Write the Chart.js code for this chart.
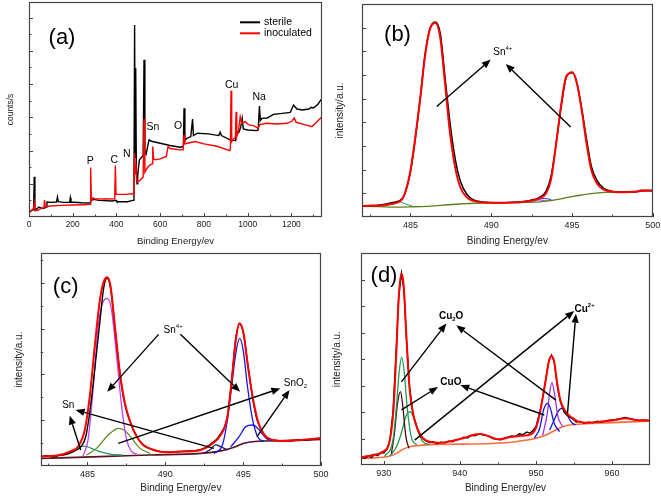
<!DOCTYPE html>
<html><head><meta charset="utf-8">
<script src="https://cdn.jsdelivr.net/npm/chart.js@4.4.0/dist/chart.umd.min.js"></script>
<style>
html,body{margin:0;padding:0;background:#fff;}
body{width:661px;height:497px;position:relative;overflow:hidden;}
canvas{position:absolute;}
</style></head><body>
<canvas id="ca" width="330" height="248" style="left:0;top:0"></canvas>
<canvas id="cb" width="331" height="248" style="left:330px;top:0"></canvas>
<canvas id="cc" width="330" height="249" style="left:0;top:248px"></canvas>
<canvas id="cd" width="331" height="249" style="left:330px;top:248px"></canvas>
<script>
const FONT = '"Liberation Sans", Arial, Helvetica, sans-serif';

// ---------------- (a) survey spectra ----------------
const aSterileE = [0,12,21,24,27,35,45,60,72,78,82,100,126,130,134,160,186,189,192,240,280,285,295,320,380,398,402,450,476,480,483,485,488,491,494,497,500,505,515,522,526,530,535,542,549,560,600,645,690,706,709,713,722,740,748,752,770,820,868,874,880,920,945,950,960,968,975,980,1000,1042,1048,1054,1058,1065,1090,1118,1160,1195,1210,1225,1250,1280,1290,1300,1320,1340];
const aSterileY = [0.15,0.2,0.22,1.21,0.22,0.24,0.3,0.26,0.27,0.3,0.45,0.44,0.45,0.6,0.46,0.44,0.44,0.58,0.45,0.43,0.42,0.5,0.53,0.5,0.48,0.5,0.46,0.46,0.5,0.9,5.78,1.8,4.48,1.4,1.0,1.21,1.45,1.72,1.8,1.85,4.73,1.9,1.88,2.1,2.32,2.28,2.22,2.15,2.1,2.12,3.27,2.3,2.37,2.42,2.95,2.45,2.52,2.5,2.45,2.55,2.45,2.32,2.3,2.5,2.55,2.7,2.97,2.65,2.62,2.6,2.62,3.34,2.9,2.97,2.98,3.09,3.12,3.15,3.37,3.25,3.22,3.25,3.3,3.28,3.38,3.57];
const aInocE = [0,12,21,24,27,40,55,68,71,74,100,150,200,250,279,282,285,293,300,350,392,395,398,440,476,480,483,486,489,492,497,508,522,526,530,538,546,555,563,566,570,577,600,628,636,645,690,705,709,713,725,760,800,860,918,921,924,927,935,944,947,950,958,966,973,989,1005,1027,1048,1055,1088,1134,1180,1202,1213,1222,1260,1294,1310,1340];
const aInocY = [0.11,0.2,0.26,0.41,0.19,0.2,0.26,0.28,0.51,0.31,0.33,0.35,0.36,0.37,0.38,1.49,0.51,0.58,0.55,0.54,0.55,1.55,0.68,0.68,0.7,1.0,1.92,1.3,1.6,1.1,1.06,1.11,1.2,2.95,1.35,1.45,1.52,1.57,1.6,2.12,1.75,1.72,1.75,1.82,2.12,2.06,2.02,2.02,2.47,2.2,2.22,2.27,2.2,2.13,2.0,2.05,3.8,2.27,2.35,2.4,3.17,2.42,2.6,3.02,2.82,2.87,2.77,2.75,2.67,2.78,2.82,2.8,2.82,2.88,2.98,2.85,2.78,2.72,2.82,3.02];
const aTicks = [0,200,400,600,800,1000,1200];
const aMinorTicks = [100,300,500,700,900,1100,1300];
const aPeakNames = ['P','C','N','Sn','O','Cu','Na'];
const aPeakE = [280,390,447,567,682,927,1053];
const aPeakY = [1.67,1.71,1.89,2.71,2.74,3.98,3.62];

// ---------------- (b) Sn 3d, sterile ----------------
const bFitE = [482.0,483.0,483.8,484.45,484.97,485.28,485.6,485.9,486.2,486.54,486.83,487.14,487.45,487.76,488.07,488.49,488.9,489.5,490.3,491.35,492.4,493.0,493.4,493.7,494.0,494.35,494.65,495.03,495.3,495.6,495.9,496.2,496.54,496.95,497.5,498.2,499.0,499.3,500.0];
const bFitY = [0.47,0.48,0.55,0.72,1.85,3.26,4.96,6.79,7.92,8.21,7.64,5.66,3.55,2.13,1.29,0.83,0.68,0.61,0.60,0.61,0.68,0.79,1.00,1.57,2.98,4.82,5.95,6.12,5.66,4.53,3.12,1.99,1.43,1.17,1.07,1.05,1.07,1.10,1.12];
const bDataE = [482.0,482.5,483.0,483.5,484.0,484.3,484.6,485.0,485.3,485.6,485.9,486.2,486.54,486.85,487.15,487.5,487.8,488.1,488.5,488.9,489.5,490.3,491.4,492.4,493.0,493.4,493.7,494.0,494.35,494.65,495.03,495.3,495.6,495.9,496.2,496.55,496.95,497.5,498.2,499.0,499.3,500.0];
const bDataY = [0.47,0.48,0.5,0.55,0.62,0.68,0.9,1.9,3.3,5.0,6.85,7.95,8.24,7.75,5.85,3.7,2.35,1.5,0.95,0.72,0.63,0.6,0.62,0.7,0.83,1.1,1.7,3.0,4.75,5.9,6.1,5.7,4.6,3.3,2.15,1.55,1.22,1.08,1.05,1.07,1.13,1.12];
const bBgE = [482,483,484,485,486,487,488,489,490,491,492,493,493.8,494.4,495,495.6,496.2,497,498.3,500];
const bBgY = [0.45,0.44,0.42,0.43,0.45,0.5,0.55,0.58,0.6,0.61,0.62,0.64,0.7,0.78,0.86,0.93,0.99,1.04,1.07,1.1];
const bTealE = [483.2,483.7,484.25,484.7,485.2];
const bTealY = [0.44,0.52,0.65,0.55,0.44];
const bPurpE = [492.0,492.6,493.0,493.4,493.8];
const bPurpY = [0.62,0.67,0.72,0.68,0.72];
const bBlueE = [492.3,492.9,493.3,493.7];
const bBlueY = [0.63,0.75,0.78,0.74];
const snTicks = [485,490,495,500];
const snMinorTicks = [482.5,487.5,492.5,497.5];

// ---------------- (c) Sn 3d, inoculated ----------------
const cFitE = [482.0,483.21,483.86,484.39,484.83,485.15,485.47,485.80,486.05,486.27,486.49,486.77,487.09,487.41,487.74,488.17,488.60,489.24,490.11,491.18,492.26,492.91,493.56,493.99,494.31,494.53,494.77,495.03,495.28,495.61,495.93,496.36,496.79,497.65,498.73,500.0];
const cFitY = [0.41,0.48,0.63,0.84,1.57,3.03,5.21,7.25,8.05,8.24,7.83,6.08,4.05,2.74,1.94,1.28,0.92,0.70,0.60,0.63,0.70,0.92,1.35,2.15,4.05,5.5,6.23,5.79,4.48,3.03,2.01,1.35,1.16,1.09,1.14,1.21];
const cDataE = [482.0,482.4,482.8,483.2,483.6,484.0,484.3,484.6,484.9,485.2,485.5,485.8,486.05,486.27,486.5,486.77,487.1,487.4,487.75,488.2,488.6,489.2,489.7,490.1,490.6,491.2,491.8,492.3,492.9,493.5,494.0,494.3,494.5,494.77,495.03,495.3,495.6,495.9,496.4,496.8,497.2,497.7,498.2,498.6,499.0,499.5,500.0];
const cDataY = [0.42,0.45,0.4,0.47,0.5,0.6,0.7,0.86,1.3,2.6,4.4,6.3,7.8,8.2,7.7,6.0,3.95,2.7,1.92,1.25,0.9,0.72,0.63,0.6,0.62,0.65,0.66,0.72,0.95,1.35,2.2,4.0,5.45,6.2,5.75,4.45,3.0,2.0,1.35,1.15,1.12,1.08,1.1,1.15,1.12,1.18,1.22];
const cPurpE = [484.72,485.04,485.36,485.69,486.01,486.27,486.55,486.88,487.20,487.52,487.85,488.17];
const cPurpY = [0.44,1.14,3.32,6.08,7.18,7.32,6.81,4.77,2.59,1.14,0.63,0.52];
const cTealE = [483.21,483.97,484.50,484.83,485.26,485.80,486.44,487.30];
const cTealY = [0.44,0.63,0.84,0.87,0.77,0.63,0.52,0.48];
const cOliveE = [484.94,485.58,486.23,486.66,486.98,487.41,487.85,488.38,489.03];
const cOliveY = [0.48,0.77,1.28,1.54,1.64,1.54,1.21,0.77,0.55];
const cBlue1E = [493.12,493.67,493.99,494.31,494.53,494.77,495.00,495.28,495.61,495.93,496.36];
const cBlue1Y = [0.55,0.92,2.01,3.76,4.92,5.57,5.07,3.46,2.01,1.28,1.06];
const cBlue2E = [494.20,494.74,495.17,495.61,496.04,496.47,496.90];
const cBlue2Y = [0.84,1.28,1.72,1.79,1.57,1.21,1.09];
const cNavyE = [492.48,492.91,493.23,493.56,493.99];
const cNavyY = [0.55,0.73,0.92,0.84,0.70];
const cBgE = [482.0,485.80,489.03,492.26,493.56,494.42,495.05,495.93,497.65,500.0];
const cBgY = [0.33,0.41,0.48,0.55,0.66,0.82,0.99,1.08,1.11,1.16];

// ---------------- (d) Cu 2p ----------------
const dFitE = [927.0,928.6,929.9,930.8,931.3,931.66,931.97,932.32,932.62,932.97,933.4,933.93,934.5,935.15,936.03,937.3,939.1,940.4,941.7,942.6,943.4,944.3,945.2,946.5,947.8,949.1,950.0,950.6,951.3,951.7,952.05,952.4,952.8,953.2,953.9,954.8,955.6,956.9,958.7,960.4,961.7,963.0,965.0];
const dFitY = [0.29,0.38,0.50,0.95,2.21,4.35,6.37,7.25,6.75,4.85,2.84,1.83,1.32,1.01,0.88,0.84,0.92,1.01,1.13,1.17,1.13,1.03,0.97,1.05,1.10,1.13,1.39,2.08,3.22,3.91,4.12,3.91,3.09,2.46,2.02,1.77,1.64,1.60,1.64,1.70,1.77,1.70,1.68];
const dDataE = [927.0,927.5,928.0,928.4,928.8,929.2,929.6,930.0,930.4,930.8,931.2,931.6,931.95,932.32,932.65,932.97,933.4,933.9,934.5,935.1,935.6,936.0,936.5,937.0,937.5,938.0,938.5,939.0,939.5,940.0,940.5,941.0,941.5,942.0,942.6,943.2,943.8,944.3,944.8,945.3,945.8,946.3,946.8,947.3,947.8,948.3,948.8,949.2,949.6,950.0,950.6,951.3,951.7,952.05,952.4,952.8,953.2,953.7,954.2,954.8,955.3,955.8,956.3,956.9,957.5,958.1,958.7,959.3,959.9,960.5,961.1,961.7,962.3,962.9,963.5,964.1,965.0];
const dDataY = [0.3,0.25,0.33,0.28,0.4,0.35,0.48,0.45,0.6,0.95,2.0,4.2,6.3,7.25,6.6,4.8,2.9,1.85,1.3,1.0,0.9,0.85,0.88,0.8,0.86,0.84,0.9,0.88,0.95,0.97,1.05,1.02,1.12,1.1,1.18,1.12,1.1,1.0,0.98,0.95,1.02,1.05,1.1,1.08,1.18,1.15,1.25,1.2,1.3,1.45,2.1,3.25,3.95,4.15,3.9,3.0,2.4,2.0,1.85,1.75,1.62,1.65,1.58,1.62,1.6,1.66,1.62,1.68,1.7,1.72,1.75,1.8,1.76,1.72,1.68,1.7,1.68];
const dBgE = [927,929.9,930.8,931.66,932.5,933.4,934.3,936.0,940.4,944.8,947.3,950.0,951.3,952.6,953.9,956.1,960.0,965.0];
const dBgY = [0.25,0.29,0.34,0.44,0.59,0.69,0.73,0.77,0.79,0.82,0.88,1.01,1.13,1.32,1.48,1.55,1.60,1.66];
const dMaroonE = [931.0,931.4,931.8,932.2,932.5,932.9,933.3];
const dMaroonY = [0.44,1.19,2.33,2.77,2.21,1.07,0.63];
const dGreen1E = [930.1,931.2,931.66,932.0,932.36,932.7,933.06,933.6,934.3];
const dGreen1Y = [0.32,0.95,2.21,3.47,4.07,3.47,2.21,1.07,0.76];
const dGreen2E = [930.8,931.66,932.3,932.9,933.4,933.9,934.5,935.15,936.0];
const dGreen2Y = [0.34,0.69,1.2,1.83,2.02,1.83,1.26,0.88,0.76];
const dBlue1E = [949.8,950.5,951.0,951.5,951.9,952.4,953.1];
const dBlue1Y = [1.01,1.39,2.08,2.33,2.14,1.58,1.26];
const dPurpE = [950.9,951.5,951.8,952.1,952.4,952.9,953.5];
const dPurpY = [1.13,1.96,2.71,3.11,2.77,1.83,1.45];
const dBlue2E = [951.8,952.4,953.1,953.5,954.0,954.6,955.2];
const dBlue2Y = [1.32,1.70,2.10,2.14,1.96,1.64,1.51];
const cuTicks = [930,940,950,960];
const cuMinorTicks = [935,945,955];

// ---------------- helpers ----------------
function pts(xs, ys) { return xs.map((v, i) => ({ x: v, y: ys[i] })); }
function series(label, xs, ys, color, width, order, smooth) {
  return {
    label, data: pts(xs, ys), borderColor: color, backgroundColor: color,
    borderWidth: width, pointRadius: 0, fill: false, order,
    tension: smooth ? 0.4 : 0, cubicInterpolationMode: smooth ? 'monotone' : 'default'
  };
}

function drawArrow(ctx, x1, y1, x2, y2) {
  const ang = Math.atan2(y2 - y1, x2 - x1), L = 9, W = 3.6;
  const bx = x2 - L * Math.cos(ang), by = y2 - L * Math.sin(ang);
  ctx.strokeStyle = '#000'; ctx.fillStyle = '#000'; ctx.lineWidth = 1.4;
  ctx.beginPath(); ctx.moveTo(x1, y1); ctx.lineTo(bx, by); ctx.stroke();
  ctx.beginPath(); ctx.moveTo(x2, y2);
  ctx.lineTo(bx - W * Math.sin(ang), by + W * Math.cos(ang));
  ctx.lineTo(bx + W * Math.sin(ang), by - W * Math.cos(ang));
  ctx.closePath(); ctx.fill();
}
function drawRich(ctx, px, py, t) {
  const size = t.size || 10, w = t.bold ? 'bold ' : '';
  ctx.fillStyle = '#000'; ctx.textBaseline = 'middle'; ctx.textAlign = 'left';
  let total = 0;
  t.parts.forEach(p => { ctx.font = w + ((p.sup || p.sub) ? size * 0.6 : size) + 'px ' + FONT; total += ctx.measureText(p.t).width; });
  let cx = t.center ? px - total / 2 : px;
  t.parts.forEach(p => {
    const s = (p.sup || p.sub) ? size * 0.6 : size;
    ctx.font = w + s + 'px ' + FONT;
    const dy = p.sup ? -size * 0.38 : (p.sub ? size * 0.32 : 0);
    ctx.fillText(p.t, cx, py + dy);
    cx += ctx.measureText(p.t).width;
  });
}

const framePlugin = {
  id: 'frame',
  afterDatasetsDraw(chart, args, o) {
    const { ctx, chartArea: a, scales: { x, y } } = chart;
    ctx.save();
    ctx.strokeStyle = '#444'; ctx.lineWidth = 1;
    ctx.beginPath();
    const xt = (vals, len) => vals.forEach(v => { const p = Math.round(x.getPixelForValue(v)) + 0.5; ctx.moveTo(p, a.bottom); ctx.lineTo(p, a.bottom - len); });
    const yt = (vals, len) => vals.forEach(v => { const p = Math.round(y.getPixelForValue(v)) + 0.5; ctx.moveTo(a.left, p); ctx.lineTo(a.left + len, p); });
    xt(o.xMajor, 4); xt(o.xMinor, 2.5); yt(o.yMajor, 4); yt(o.yMinor, 2.5);
    ctx.stroke();
    ctx.lineWidth = 1.2;
    ctx.strokeRect(Math.round(a.left) + 0.5, Math.round(a.top) + 0.5, Math.round(a.width) - 1, Math.round(a.height) - 1);
    ctx.restore();
  }
};

const notesPlugin = {
  id: 'notes',
  afterDatasetsDraw(chart, args, o) {
    const { ctx, chartArea: a, scales: { x, y } } = chart;
    ctx.save();
    (o.arrows || []).forEach(r => drawArrow(ctx, x.getPixelForValue(r[0]), y.getPixelForValue(r[1]), x.getPixelForValue(r[2]), y.getPixelForValue(r[3])));
    (o.texts || []).forEach(t => drawRich(ctx, x.getPixelForValue(t.x), y.getPixelForValue(t.y), t));
    ctx.fillStyle = '#000'; ctx.textAlign = 'center'; ctx.textBaseline = 'middle';
    ctx.font = '22px ' + FONT;
    ctx.fillText(o.tag, a.left + o.tagDx, a.top + o.tagDy);
    if (o.legend) {
      let yy = a.top + o.legend.dy;
      chart.data.datasets.filter(d => d.inLegend).forEach(d => {
        ctx.strokeStyle = d.borderColor; ctx.lineWidth = 2;
        ctx.beginPath(); ctx.moveTo(a.left + o.legend.dx, yy); ctx.lineTo(a.left + o.legend.dx + 20, yy); ctx.stroke();
        ctx.fillStyle = '#000'; ctx.textAlign = 'left'; ctx.font = '10.5px ' + FONT;
        ctx.fillText(d.label, a.left + o.legend.dx + 24, yy);
        yy += o.legend.gap;
      });
    }
    ctx.restore();
  }
};

function makeChart(id, p, datasets) {
  return new Chart(document.getElementById(id), {
    type: 'line',
    data: { datasets },
    plugins: [framePlugin, notesPlugin],
    options: {
      responsive: false, maintainAspectRatio: false, animation: false,
      layout: { autoPadding: false, padding: { left: 0, top: p.top, right: p.right, bottom: 0 } },
      plugins: { legend: { display: false }, tooltip: { enabled: false }, frame: p.frame, notes: p.notes },
      scales: {
        x: {
          type: 'linear', min: p.xmin, max: p.xmax,
          afterBuildTicks: s => { s.ticks = p.xTicks.map(v => ({ value: v })); },
          afterFit: s => { s.height = p.xh; s.paddingLeft = 0; s.paddingRight = 0; },
          grid: { display: false, drawTicks: false }, border: { display: false },
          ticks: { font: { size: p.tickSize, family: FONT }, color: '#222', padding: p.tickPad, maxRotation: 0, autoSkip: false, callback: v => String(v) },
          title: { display: true, text: 'Binding Energy/ev', font: { size: p.titleSize, family: FONT }, color: '#222', padding: { top: 0, bottom: p.xTitlePad } }
        },
        y: {
          type: 'linear', min: p.ymin, max: p.ymax,
          afterFit: s => { s.width = p.yw; s.paddingTop = 0; s.paddingBottom = 0; },
          grid: { display: false, drawTicks: false }, border: { display: false }, ticks: { display: false },
          title: { display: true, text: p.yTitle, font: { size: p.yTitleSize, family: FONT }, color: '#222', padding: { top: p.yTitlePad, bottom: 0 } }
        }
      }
    }
  });
}

// ---------------- panel (a) ----------------
const aSterile = series('sterile', aSterileE, aSterileY, '#000000', 1.4, 2, false); aSterile.inLegend = true;
const aInoc = series('inoculated', aInocE, aInocY, '#ff0000', 1.4, 1, false); aInoc.inLegend = true;
makeChart('ca', {
  top: 2, right: 8, yw: 29, xh: 31, xmin: 0, xmax: 1340, ymin: 0, ymax: 6.47,
  xTicks: aTicks, tickSize: 8.5, tickPad: 3, titleSize: 9.5, xTitlePad: 1,
  yTitle: 'counts/s', yTitleSize: 8.5, yTitlePad: 5.2,
  frame: { xMajor: aTicks, xMinor: aMinorTicks, yMajor: [1,2,3,4,5,6], yMinor: [0.5,1.5,2.5,3.5,4.5,5.5] },
  notes: {
    tag: '(a)', tagDx: 33, tagDy: 36,
    legend: { dx: 211, dy: 20.3, gap: 11 },
    texts: aPeakNames.map((n, i) => ({ x: aPeakE[i], y: aPeakY[i], parts: [{ t: n }], size: 10.5, center: true }))
  }
}, [aSterile, aInoc]);

// ---------------- panel (b) ----------------
makeChart('cb', {
  top: 4, right: 8.3, yw: 32, xh: 31, xmin: 482, xmax: 500, ymin: 0, ymax: 9,
  xTicks: snTicks, tickSize: 9, tickPad: 3, titleSize: 10, xTitlePad: 1,
  yTitle: 'intensity/a.u.', yTitleSize: 10, yTitlePad: 4,
  frame: { xMajor: snTicks, xMinor: snMinorTicks, yMajor: [1,2,3,4,5,6,7,8], yMinor: [] },
  notes: {
    tag: '(b)', tagDx: 35.5, tagDy: 31,
    texts: [{ x: 490.13, y: 6.96, parts: [{ t: 'Sn' }, { t: '4+', sup: true }], size: 10 }],
    arrows: [[486.63, 4.67, 489.97, 6.65], [494.92, 3.80, 490.9, 6.47]]
  }
}, [
  series('fit', bFitE, bFitY, '#ff0000', 2, 0, true),
  series('data', bDataE, bDataY, '#000000', 1.5, 1, true),
  series('bg', bBgE, bBgY, '#5e7d1c', 1.3, 2, true),
  series('c1', bTealE, bTealY, '#1f9a5a', 1, 3, true),
  series('c2', bPurpE, bPurpY, '#b040e8', 1, 3, true),
  series('c3', bBlueE, bBlueY, '#2020e0', 1, 3, true)
]);

// ---------------- panel (c) ----------------
makeChart('cc', {
  top: 5.3, right: 9, yw: 40.7, xh: 31, xmin: 482, xmax: 500, ymin: 0, ymax: 9.29,
  xTicks: snTicks, tickSize: 9, tickPad: 3, titleSize: 10, xTitlePad: 3,
  yTitle: 'intensity/a.u.', yTitleSize: 10, yTitlePad: 13,
  frame: { xMajor: snTicks, xMinor: snMinorTicks, yMajor: [2,4,6,8], yMinor: [1,3,5,7,9] },
  notes: {
    tag: '(c)', tagDx: 25, tagDy: 34,
    texts: [
      { x: 489.89, y: 5.94, parts: [{ t: 'Sn' }, { t: '4+', sup: true }], size: 10 },
      { x: 497.61, y: 3.62, parts: [{ t: 'SnO' }, { t: '2', sub: true }], size: 10 },
      { x: 483.38, y: 2.66, parts: [{ t: 'Sn' }], size: 10 }
    ],
    arrows: [
      [489.57, 5.75, 486.27, 3.24], [490.97, 5.75, 494.81, 3.24],
      [486.98, 0.99, 497.39, 3.39], [495.89, 1.28, 497.98, 3.32],
      [484.57, 0.70, 483.86, 2.2], [493.12, 0.77, 484.24, 2.45]
    ]
  }
}, [
  series('fit', cFitE, cFitY, '#ff0000', 2, 0, true),
  series('data', cDataE, cDataY, '#000000', 1.4, 1, true),
  series('Sn4+ 3d5/2', cPurpE, cPurpY, '#c040f0', 1.3, 2, true),
  series('Sn 3d5/2', cTealE, cTealY, '#1f9a5a', 1.2, 2, true),
  series('SnO2 3d5/2', cOliveE, cOliveY, '#5f8a1f', 1.3, 2, true),
  series('Sn4+ 3d3/2', cBlue1E, cBlue1Y, '#1515e0', 1.3, 2, true),
  series('SnO2 3d3/2', cBlue2E, cBlue2Y, '#1515e0', 1.3, 2, true),
  series('Sn 3d3/2', cNavyE, cNavyY, '#101060', 1.2, 2, true),
  series('bg', cBgE, cBgY, '#5a1020', 1.6, 3, true)
]);

// ---------------- panel (d) ----------------
makeChart('cd', {
  top: 5.3, right: 11, yw: 31, xh: 32, xmin: 927, xmax: 965, ymin: 0, ymax: 8,
  xTicks: cuTicks, tickSize: 9, tickPad: 3.5, titleSize: 10, xTitlePad: 3,
  yTitle: 'intensity/a.u.', yTitleSize: 10, yTitlePad: 1.5,
  frame: { xMajor: cuTicks, xMinor: cuMinorTicks, yMajor: [1,2,3,4,5,6,7], yMinor: [] },
  notes: {
    tag: '(d)', tagDx: 23, tagDy: 22.5,
    texts: [
      { x: 937.25, y: 5.62, parts: [{ t: 'Cu' }, { t: '2', sub: true }, { t: 'O' }], size: 10, bold: true },
      { x: 937.43, y: 3.14, parts: [{ t: 'CuO' }], size: 10, bold: true },
      { x: 955.07, y: 5.89, parts: [{ t: 'Cu' }, { t: '2+', sup: true }], size: 10, bold: true }
    ],
    arrows: [
      [932.32, 3.14, 938.22, 5.35], [952.63, 2.45, 939.53, 5.28],
      [932.32, 2.08, 937.12, 2.95], [951.1, 1.89, 940.05, 3.02],
      [934.06, 0.94, 955.03, 5.82], [954.15, 1.95, 955.26, 5.72]
    ]
  }
}, [
  series('fit', dFitE, dFitY, '#ff0000', 2, 0, true),
  series('data', dDataE, dDataY, '#000000', 1.3, 1, false),
  series('Cu2O 2p3/2', dGreen1E, dGreen1Y, '#1f9a50', 1.3, 2, true),
  series('CuO 2p3/2', dMaroonE, dMaroonY, '#4a0a14', 1.3, 2, true),
  series('Cu2+ 2p3/2', dGreen2E, dGreen2Y, '#1f9a50', 1.3, 2, true),
  series('2p1/2 a', dBlue1E, dBlue1Y, '#1515e0', 1.3, 2, true),
  series('2p1/2 b', dPurpE, dPurpY, '#a030e0', 1.3, 2, true),
  series('2p1/2 c', dBlue2E, dBlue2Y, '#1515e0', 1.3, 2, true),
  series('bg', dBgE, dBgY, '#ff6a3a', 1.6, 3, true)
]);
</script>
</body></html>
